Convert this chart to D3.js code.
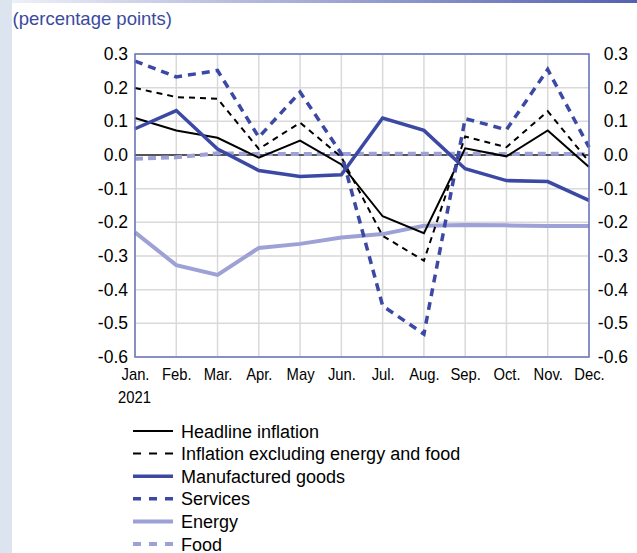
<!DOCTYPE html>
<html>
<head>
<meta charset="utf-8">
<script src="https://cdn.jsdelivr.net/npm/d3@7"></script>
<style>
  html, body { margin: 0; padding: 0; background: #fff; }
  svg { display: block; font-family: "Liberation Sans", Arial, sans-serif; }
</style>
</head>
<body>
<svg id="chart" width="637" height="553"></svg>
<script>
const months = ["Jan.", "Feb.", "Mar.", "Apr.", "May", "Jun.", "Jul.", "Aug.", "Sep.", "Oct.", "Nov.", "Dec."];
const yearLabel = "2021";
const yTicks = [0.3, 0.2, 0.1, 0.0, -0.1, -0.2, -0.3, -0.4, -0.5, -0.6];
const unitLabel = "(percentage points)";

const headline      = [0.110, 0.073, 0.051, -0.008, 0.043, -0.028, -0.182, -0.232, 0.020, -0.004, 0.073, -0.036];
const coreInflation = [0.199, 0.172, 0.167, 0.018, 0.096, -0.006, -0.240, -0.314, 0.055, 0.023, 0.130, -0.020];
const manufactured  = [0.078, 0.132, 0.018, -0.046, -0.064, -0.059, 0.110, 0.073, -0.041, -0.076, -0.079, -0.135];
const services      = [0.279, 0.232, 0.251, 0.053, 0.187, 0.004, -0.448, -0.532, 0.108, 0.075, 0.254, 0.023];
const energy        = [-0.230, -0.327, -0.356, -0.276, -0.264, -0.245, -0.235, -0.210, -0.208, -0.209, -0.211, -0.211];
const food          = [-0.011, -0.007, 0.005, 0.003, 0.003, 0.003, 0.004, 0.004, 0.004, 0.003, 0.004, 0.002];

const seriesNames = ["Headline inflation", "Inflation excluding energy and food", "Manufactured goods", "Services", "Energy", "Food"];

const darkBlue = "#3c49a4";
const lightPurple = "#9ea1d5";
const styles = [
  { color: "#000", width: 2, dash: null, legDash: null },
  { color: "#000", width: 2, dash: "6,5", legDash: "8,8" },
  { color: darkBlue, width: 3.5, dash: null, legDash: null },
  { color: darkBlue, width: 3.5, dash: "8,6", legDash: "8,8" },
  { color: lightPurple, width: 4, dash: null, legDash: null },
  { color: lightPurple, width: 4, dash: "8,5", legDash: "8,8" }
];
const seriesData = [headline, coreInflation, manufactured, services, energy, food];

const svg = d3.select("#chart");

// decorative frame: left strip and top gradient bar
const defs = svg.append("defs");
const grad = defs.append("linearGradient").attr("id", "topGrad").attr("x1", "0").attr("x2", "1");
grad.append("stop").attr("offset", "0").attr("stop-color", "#eef0f8");
grad.append("stop").attr("offset", "1").attr("stop-color", "#5560b0");
svg.append("rect").attr("x", 0).attr("y", 0).attr("width", 12).attr("height", 553).attr("fill", "#dce4ef");
svg.append("rect").attr("x", 12).attr("y", 0).attr("width", 625).attr("height", 3).attr("fill", "url(#topGrad)");

svg.append("text").attr("x", 12.5).attr("y", 25).attr("fill", "#3b4aa0")
  .attr("font-size", "18.5px").text(unitLabel);

const pLeft = 135, pRight = 589, pTop = 54, pBottom = 357;
const x = d3.scalePoint().domain(months).range([pLeft, pRight]);
const y = d3.scaleLinear().domain([-0.6, 0.3]).range([pBottom, pTop]);

// grid
const g = svg.append("g");
g.selectAll(".vg").data(months).join("line")
  .attr("x1", d => x(d)).attr("x2", d => x(d)).attr("y1", pTop).attr("y2", pBottom)
  .attr("stroke", "#d9d9d9").attr("stroke-width", 1.5);
g.selectAll(".hg").data(yTicks).join("line")
  .attr("x1", pLeft).attr("x2", pRight).attr("y1", d => y(d)).attr("y2", d => y(d))
  .attr("stroke", "#d9d9d9").attr("stroke-width", 1.5);

// zero line
g.append("line").attr("x1", pLeft).attr("x2", pRight).attr("y1", y(0)).attr("y2", y(0))
  .attr("stroke", "#555").attr("stroke-width", 2);

// axes (labels only)
const fmt = d => d3.format(".1f")(d).replace("\u2212", "-");
const yAxisL = d3.axisLeft(y).tickValues(yTicks).tickFormat(fmt).tickSize(0).tickPadding(7);
const yAxisR = d3.axisRight(y).tickValues(yTicks).tickFormat(fmt).tickSize(0).tickPadding(8);
const gl = svg.append("g").attr("transform", `translate(${pLeft},0)`).call(yAxisL);
const gr = svg.append("g").attr("transform", `translate(${pRight},0)`).call(yAxisR);
[gl, gr].forEach(a => {
  a.select(".domain").remove();
  a.selectAll("text").attr("font-size", "17.5px").attr("fill", "#000")
    .attr("font-family", "'Liberation Sans', Arial, sans-serif");
});
gr.selectAll("text").attr("text-anchor", "end").attr("x", 39);

const xAxis = d3.axisBottom(x).tickSize(0).tickPadding(0);
const gx = svg.append("g").attr("transform", `translate(0,${pBottom})`).call(xAxis);
gx.select(".domain").remove();
gx.selectAll("text").attr("font-size", "17px").attr("fill", "#000").attr("dy", null).attr("y", 0)
  .attr("font-family", "'Liberation Sans', Arial, sans-serif")
  .attr("transform", "translate(0,23) scale(0.87,1)");
svg.append("text").attr("x", 118).attr("y", 403).attr("font-size", "17px")
  .attr("transform", "translate(118,0) scale(0.87,1) translate(-118,0)")
  .text(yearLabel);

// lines
const line = d3.line().x((d, i) => x(months[i])).y(d => y(d));
const order = [4, 5, 0, 1, 2, 3];
order.forEach(k => {
  svg.append("path").datum(seriesData[k])
    .attr("d", line).attr("fill", "none")
    .attr("stroke", styles[k].color).attr("stroke-width", styles[k].width)
    .attr("stroke-dasharray", styles[k].dash)
    .attr("stroke-linejoin", "miter");
});

// plot frame
svg.append("rect").attr("x", pLeft).attr("y", pTop).attr("width", pRight - pLeft).attr("height", pBottom - pTop)
  .attr("fill", "none").attr("stroke", "#6a75bd").attr("stroke-width", 1.5);

// legend
const leg = svg.append("g");
seriesNames.forEach((name, i) => {
  const yy = 431 + i * 22.6;
  leg.append("line").attr("x1", 133).attr("x2", 173).attr("y1", yy).attr("y2", yy)
    .attr("stroke", styles[i].color).attr("stroke-width", styles[i].width)
    .attr("stroke-dasharray", styles[i].legDash);
  leg.append("text").attr("x", 181).attr("y", yy + 6.5).attr("font-size", "18px").attr("fill", "#000").text(name);
});
</script>
</body>
</html>
